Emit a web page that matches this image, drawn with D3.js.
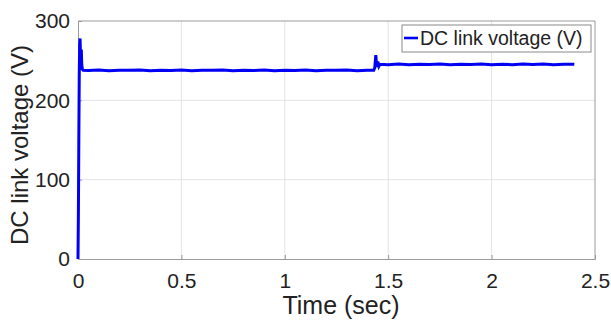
<!DOCTYPE html>
<html>
<head>
<meta charset="utf-8">
<script src="https://cdn.jsdelivr.net/npm/d3@7"></script>
<style>
  body { margin: 0; background: #fff; }
  svg { display: block; font-family: "Liberation Sans", Arial, sans-serif; }
</style>
</head>
<body>
<div id="chart"></div>
<script>
// time (s) and DC link voltage (V)
const timeSec = [0, 0.002, 0.004, 0.006, 0.008, 0.010, 0.012, 0.014, 0.016, 0.018, 0.021, 0.025,
  0.05, 0.1, 0.15, 0.2, 0.25, 0.3, 0.35, 0.4, 0.45, 0.5, 0.55, 0.6, 0.65, 0.7, 0.75, 0.8, 0.85,
  0.9, 0.95, 1.0, 1.05, 1.1, 1.15, 1.2, 1.25, 1.3, 1.35, 1.4, 1.43, 1.435, 1.44, 1.445, 1.45,
  1.455, 1.46, 1.5, 1.55, 1.6, 1.65, 1.7, 1.75, 1.8, 1.85, 1.9, 1.95, 2.0, 2.05, 2.1, 2.15,
  2.2, 2.25, 2.3, 2.35, 2.4];
const voltage = [0, 60, 150, 230, 270, 278, 258, 248, 264, 246, 239, 238,
  237.6, 238.2, 237.4, 238, 237.8, 238.3, 237.3, 238, 237.7, 238.2, 237.4, 238, 237.8, 238.3, 237.4, 238,
  237.6, 238.2, 237.4, 238, 237.7, 238.3, 237.4, 238, 237.8, 238.2, 237.4, 238, 238, 241, 257, 242, 249,
  243, 245.5, 245, 245.8, 245, 245.6, 245.2, 245.8, 244.9, 245.6, 245.2, 245.8, 245, 245.6, 245, 245.7,
  245.2, 245.8, 245, 245.6, 245.4];
const xTicks = [0, 0.5, 1, 1.5, 2, 2.5];
const yTicks = [0, 100, 200, 300];
const seriesName = "DC link voltage (V)";

const W = 611, H = 320;
const margin = { top: 21, right: 16, bottom: 61, left: 78 };
const w = W - margin.left - margin.right;
const h = H - margin.top - margin.bottom;

const svg = d3.select("#chart").append("svg")
  .attr("width", W)
  .attr("height", H);

const g = svg.append("g")
  .attr("transform", `translate(${margin.left},${margin.top})`);

const x = d3.scaleLinear().domain([0, 2.5]).range([0, w]);
const y = d3.scaleLinear().domain([0, 300]).range([h, 0]);

// grid
g.append("g")
  .selectAll("line")
  .data(xTicks.slice(1, -1))
  .enter().append("line")
  .attr("x1", d => x(d)).attr("x2", d => x(d))
  .attr("y1", 0).attr("y2", h)
  .attr("stroke", "#e3e3e3");
g.append("g")
  .selectAll("line")
  .data(yTicks.slice(1, -1))
  .enter().append("line")
  .attr("x1", 0).attr("x2", w)
  .attr("y1", d => y(d)).attr("y2", d => y(d))
  .attr("stroke", "#e3e3e3");

// axes
const xAxis = g.append("g")
  .attr("transform", `translate(0,${h})`)
  .call(d3.axisBottom(x).tickValues(xTicks).tickSize(-4).tickPadding(14).tickFormat(d3.format("")));
const yAxis = g.append("g")
  .call(d3.axisLeft(y).tickValues(yTicks).tickSize(-4).tickPadding(8));

[xAxis, yAxis].forEach(a => {
  a.select(".domain").attr("stroke", "#9a9a9a");
  a.selectAll(".tick line").attr("stroke", "#9a9a9a");
  a.selectAll(".tick text")
    .attr("fill", "#222")
    .style("font-size", "21px")
    .style("font-family", "'Liberation Sans', Arial, sans-serif");
});

// top/right box
g.append("path")
  .attr("d", `M0,0H${w}V${h}`)
  .attr("fill", "none")
  .attr("stroke", "#9a9a9a");

// series
const pts = timeSec.map((t, i) => [t, voltage[i]]);
g.append("path")
  .datum(pts)
  .attr("fill", "none")
  .attr("stroke", "#0000f5")
  .attr("stroke-width", 3)
  .attr("d", d3.line().x(d => x(d[0])).y(d => y(d[1])));

// legend
const lg = svg.append("g").attr("transform", "translate(402,25)");
lg.append("rect")
  .attr("width", 189).attr("height", 27)
  .attr("fill", "#fff").attr("stroke", "#8a8a8a");
lg.append("line")
  .attr("x1", 2).attr("x2", 16).attr("y1", 13).attr("y2", 13)
  .attr("stroke", "#0000f5").attr("stroke-width", 2.6);
lg.append("text")
  .attr("x", 18).attr("y", 20)
  .style("font-size", "19.5px")
  .attr("fill", "#222")
  .text(seriesName);

// axis labels
svg.append("text")
  .attr("x", 341).attr("y", 314)
  .attr("text-anchor", "middle")
  .style("font-size", "25px")
  .attr("fill", "#222")
  .text("Time (sec)");
svg.append("text")
  .attr("transform", `translate(28,145) rotate(-90)`)
  .attr("text-anchor", "middle")
  .style("font-size", "24px")
  .attr("fill", "#222")
  .text("DC link voltage (V)");
</script>
</body>
</html>
